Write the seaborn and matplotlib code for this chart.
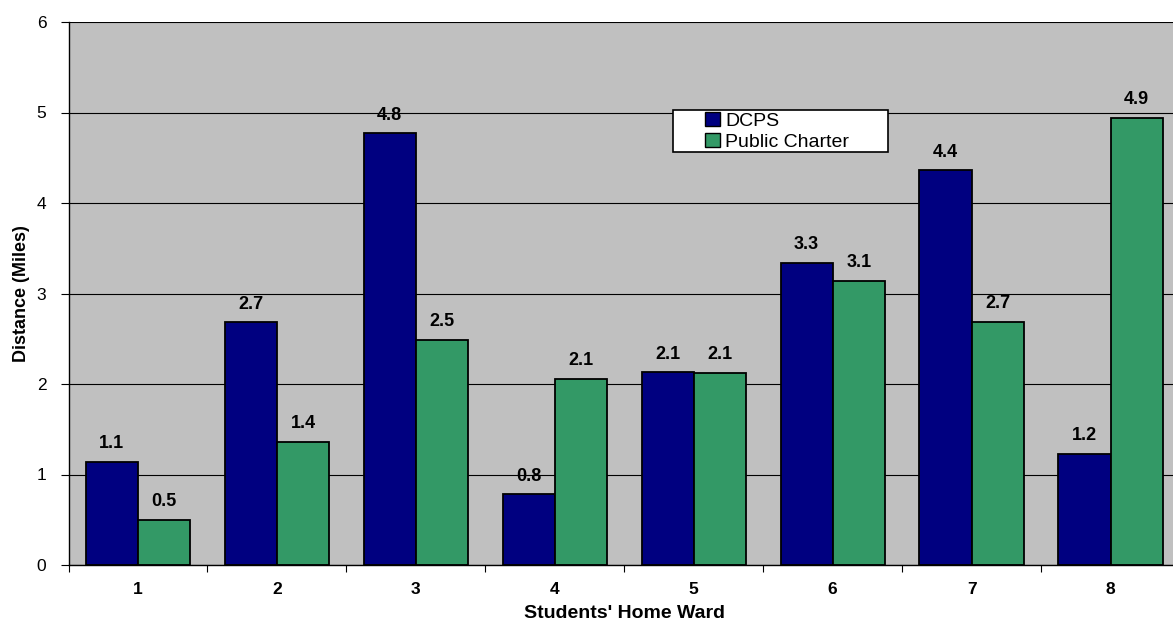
import matplotlib
matplotlib.use("Agg")
import matplotlib.pyplot as plt
import seaborn as sns
import pandas as pd
from matplotlib.patches import Patch, Rectangle

wards = ["1", "2", "3", "4", "5", "6", "7", "8"]
dcps = [1.14, 2.68, 4.77, 0.78, 2.13, 3.34, 4.36, 1.23]
charter = [0.50, 1.36, 2.49, 2.06, 2.12, 3.14, 2.69, 4.94]
series_names = ["DCPS", "Public Charter"]
colors = ["#000080", "#339966"]
y_ticks = [0, 1, 2, 3, 4, 5, 6]

df = pd.DataFrame({
    "Ward": wards * 2,
    "Distance": dcps + charter,
    "Type": [series_names[0]] * len(wards) + [series_names[1]] * len(wards),
})

sns.set_theme(style="white")
plt.rcParams["font.family"] = ["Liberation Sans", "DejaVu Sans"]
for k in ["text.color", "axes.labelcolor", "xtick.color", "ytick.color"]:
    plt.rcParams[k] = "black"

W, H = 1173, 625
fig = plt.figure(figsize=(W / 100, H / 100), dpi=100)
ax = fig.add_axes([68.5 / W, 60 / H, (1180 - 68.5) / W, (565 - 22) / H])
ax.set_facecolor("#C0C0C0")

sns.barplot(data=df, x="Ward", y="Distance", hue="Type", palette=colors,
            width=0.75, edgecolor="black", linewidth=1.3, ax=ax, legend=False,
            saturation=1)

ax.set_ylim(0, 6)
ax.set_xlim(-0.5, len(wards) - 0.5)
ax.set_yticks(y_ticks)
ax.set_yticklabels([str(t) for t in y_ticks], fontsize=12.5)
ax.yaxis.grid(True, color="black", linewidth=0.8)
ax.set_axisbelow(True)
ax.set_xticks(range(len(wards)))
ax.set_xticklabels(wards, fontsize=12.5, fontweight="bold")
ax.tick_params(axis="x", length=0, pad=12)
ax.tick_params(axis="y", length=6, width=0.8, color="black", pad=10, direction="out", left=True)
ax.set_xticks([i + 0.5 for i in range(-1, len(wards))], minor=True)
ax.tick_params(axis="x", which="minor", length=5, width=0.8, color="black", direction="out", bottom=True)

for s in ["top", "right"]:
    ax.spines[s].set_visible(False)
for s in ["left", "bottom"]:
    ax.spines[s].set_color("black")
    ax.spines[s].set_linewidth(1.0)

ax.set_xlabel("Students' Home Ward", fontsize=14, fontweight="bold", labelpad=6)
ax.set_ylabel("Distance (Miles)", fontsize=13, fontweight="bold", labelpad=5)

for cont in ax.containers:
    ax.bar_label(cont, fmt="%.1f", padding=7, fontsize=13, fontweight="bold", color="black")

# legend box
fig.patches.append(Rectangle((673 / W, 1 - 152 / H), (888 - 673) / W, 42 / H,
                             transform=fig.transFigure, facecolor="white",
                             edgecolor="black", linewidth=1.2, zorder=5))
handles = [Patch(facecolor=c, edgecolor="black", linewidth=1) for c in colors]
leg = fig.legend(handles, series_names, loc="upper left",
                 bbox_to_anchor=(703 / W, 1 - 110 / H),
                 frameon=False, fontsize=14, handlelength=0.75, handleheight=0.75,
                 handletextpad=0.3, borderpad=0.1, labelspacing=0.15,
                 borderaxespad=0)
leg.set_zorder(6)

fig.savefig("out.png", dpi=100)
